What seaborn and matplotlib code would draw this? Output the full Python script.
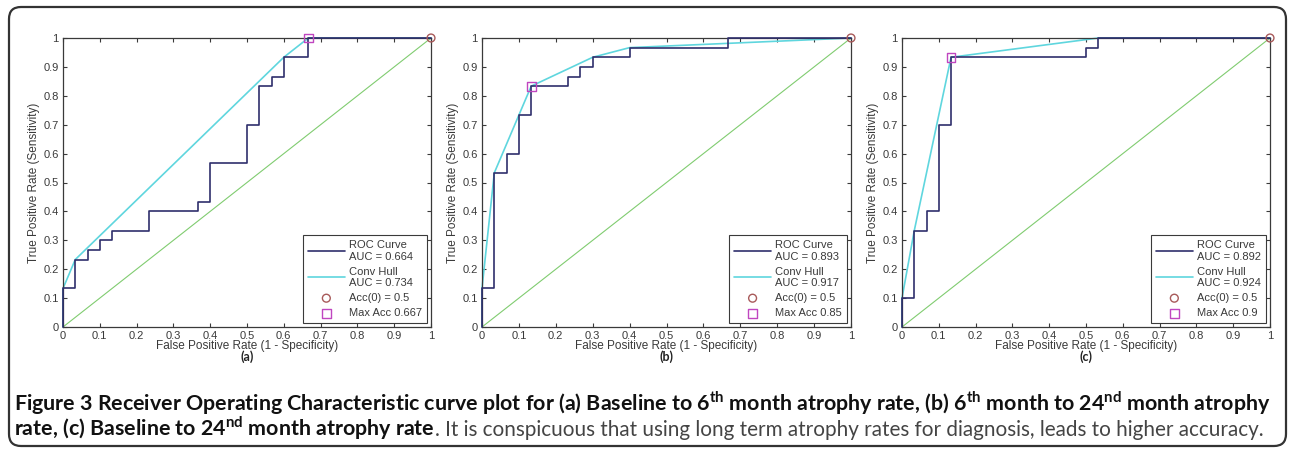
import matplotlib
matplotlib.use('Agg')
import matplotlib.pyplot as plt
from matplotlib.patches import FancyBboxPatch
from matplotlib.transforms import IdentityTransform
import seaborn as sns

# ROC staircase vertices (fpr, tpr)
roc_a_fpr = [0, 0, 0.0333, 0.0333, 0.0667, 0.0667, 0.1, 0.1, 0.1333, 0.1333, 0.2333, 0.2333,
             0.3667, 0.3667, 0.4, 0.4, 0.5, 0.5, 0.5333, 0.5333, 0.5667, 0.5667, 0.6, 0.6,
             0.6667, 0.6667, 1]
roc_a_tpr = [0, 0.1333, 0.1333, 0.2333, 0.2333, 0.2667, 0.2667, 0.3, 0.3, 0.3333, 0.3333, 0.4,
             0.4, 0.4333, 0.4333, 0.5667, 0.5667, 0.7, 0.7, 0.8333, 0.8333, 0.8667, 0.8667, 0.9333,
             0.9333, 1, 1]
hull_a_fpr = [0, 0, 0.0333, 0.6, 0.6667, 1]
hull_a_tpr = [0, 0.1333, 0.2333, 0.9333, 1, 1]

roc_b_fpr = [0, 0, 0.0333, 0.0333, 0.0667, 0.0667, 0.1, 0.1, 0.1333, 0.1333, 0.2333, 0.2333,
             0.2667, 0.2667, 0.3, 0.3, 0.4, 0.4, 0.6667, 0.6667, 1]
roc_b_tpr = [0, 0.1333, 0.1333, 0.5333, 0.5333, 0.6, 0.6, 0.7333, 0.7333, 0.8333, 0.8333, 0.8667,
             0.8667, 0.9, 0.9, 0.9333, 0.9333, 0.9667, 0.9667, 1, 1]
hull_b_fpr = [0, 0, 0.0333, 0.1333, 0.3, 0.4, 1]
hull_b_tpr = [0, 0.1333, 0.5333, 0.8333, 0.9333, 0.9667, 1]

roc_c_fpr = [0, 0, 0.0333, 0.0333, 0.0667, 0.0667, 0.1, 0.1, 0.1333, 0.1333, 0.5, 0.5,
             0.5333, 0.5333, 1]
roc_c_tpr = [0, 0.1, 0.1, 0.3333, 0.3333, 0.4, 0.4, 0.7, 0.7, 0.9333, 0.9333, 0.9667,
             0.9667, 1, 1]
hull_c_fpr = [0, 0, 0.0333, 0.1333, 0.5333, 1]
hull_c_tpr = [0, 0.1, 0.3333, 0.9333, 1, 1]

auc_roc = ['0.664', '0.893', '0.892']
auc_hull = ['0.734', '0.917', '0.924']
acc0 = ['0.5', '0.5', '0.5']
max_acc = ['0.667', '0.85', '0.9']
max_acc_pt = [(0.6667, 1.0), (0.1333, 0.8333), (0.1333, 0.9333)]
panel_tags = ['(a)', '(b)', '(c)']

ticks = [0, 0.1, 0.2, 0.3, 0.4, 0.5, 0.6, 0.7, 0.8, 0.9, 1]
tick_labels = ['0', '0.1', '0.2', '0.3', '0.4', '0.5', '0.6', '0.7', '0.8', '0.9', '1']

W, H = 1290, 450
sns.set_style('ticks')
plt.rcParams['font.family'] = ['Liberation Sans', 'DejaVu Sans']
plt.rcParams['mathtext.fontset'] = 'custom'
plt.rcParams['mathtext.rm'] = 'Lato'
plt.rcParams['mathtext.bf'] = 'Lato:bold'
cap_font = ['Lato', 'DejaVu Sans']

c_roc = '#2f2f6c'
c_hull = '#5fd6de'
c_diag = '#80cc70'
c_circ = '#a85a5a'
c_sq = '#c046c0'
c_ax = '#3a3a3a'

fig = plt.figure(figsize=(W / 100, H / 100), dpi=100)
fig.patch.set_facecolor('white')

lefts = [63, 482, 902]
top, bottom = 38, 327
widths = [368, 369, 368]

panels = [(roc_a_fpr, roc_a_tpr, hull_a_fpr, hull_a_tpr),
          (roc_b_fpr, roc_b_tpr, hull_b_fpr, hull_b_tpr),
          (roc_c_fpr, roc_c_tpr, hull_c_fpr, hull_c_tpr)]

for i, (rf, rt, hf, ht) in enumerate(panels):
    ax = fig.add_axes([lefts[i] / W, (H - bottom) / H, widths[i] / W, (bottom - top) / H])
    sns.lineplot(x=[0, 1], y=[0, 1], color=c_diag, lw=0.8, ax=ax, zorder=1)
    sns.lineplot(x=rf, y=rt, sort=False, estimator=None, color=c_roc, lw=1.2, ax=ax,
                 label='ROC Curve\nAUC = ' + auc_roc[i], zorder=3, clip_on=False)
    sns.lineplot(x=hf, y=ht, sort=False, estimator=None, color=c_hull, lw=1.2, ax=ax,
                 label='Conv Hull\nAUC = ' + auc_hull[i], zorder=2, clip_on=False)
    sns.scatterplot(x=[1], y=[1], marker='o', s=32, facecolor='none', edgecolor=c_circ,
                    color=c_circ, linewidth=1, ax=ax, label='Acc(0) = ' + acc0[i],
                    zorder=5, clip_on=False)
    sns.scatterplot(x=[max_acc_pt[i][0]], y=[max_acc_pt[i][1]], marker='s', s=40,
                    facecolor='none', edgecolor=c_sq, color=c_sq, linewidth=1, ax=ax,
                    label='Max Acc ' + max_acc[i], zorder=5, clip_on=False)

    ax.set_xlim(0, 1)
    ax.set_ylim(0, 1)
    ax.set_xticks(ticks)
    ax.set_xticklabels(tick_labels)
    ax.set_yticks(ticks)
    ax.set_yticklabels(tick_labels)
    ax.tick_params(direction='in', length=3, width=0.8, top=True, right=True,
                   labelsize=8, colors=c_ax, pad=3)
    for sp in ax.spines.values():
        sp.set_visible(True)
        sp.set_color(c_ax)
        sp.set_linewidth(0.9)

    ax.set_xlabel('False Positive Rate (1 - Specificity)', fontsize=8.5, color=c_ax)
    ax.set_ylabel('True Positive Rate (Sensitivity)', fontsize=8.5, color=c_ax)
    ax.xaxis.set_label_coords(0.5, -0.066)
    ax.xaxis.label.set_va('center')
    ax.yaxis.set_label_coords(-0.078, 0.5)
    ax.yaxis.label.set_va('center')

    leg = ax.legend(loc='lower right', fontsize=8, frameon=True, fancybox=False,
                    framealpha=1, edgecolor=c_ax, borderpad=0.45, labelspacing=0.45,
                    handlelength=3.3, handletextpad=0.4, borderaxespad=0.35)
    leg.get_frame().set_linewidth(0.8)
    for t in leg.get_texts():
        t.set_color(c_ax)

    fig.text((lefts[i] + widths[i] / 2) / W, (H - 357) / H, panel_tags[i], family=cap_font,
             fontsize=9, fontweight='bold', color='#222222', ha='center', va='center')

# rounded outer frame
frame = FancyBboxPatch((9, 4), 1277, 439, boxstyle='round,pad=0,rounding_size=12',
                       transform=IdentityTransform(), facecolor='none', edgecolor='#333333',
                       linewidth=1.6)
fig.patches.append(frame)

# caption
line1 = (r'Figure 3 Receiver Operating Characteristic curve plot for (a) Baseline to 6$^{\mathbf{th}}$'
         r' month atrophy rate, (b) 6$^{\mathbf{th}}$ month to 24$^{\mathbf{nd}}$ month atrophy')
line2_bold = r'rate, (c) Baseline to 24$^{\mathbf{nd}}$ month atrophy rate'
line2_norm = '. It is conspicuous that using long term atrophy rates for diagnosis, leads to higher accuracy.'

renderer = fig.canvas.get_renderer()
x0, x1 = 14, 1276
t1 = fig.text(x0 / W, (H - 411) / H, line1, family=cap_font, fontsize=11.5,
              fontweight='bold', color='#111111', va='baseline', ha='left')
w1 = t1.get_window_extent(renderer).width
t1.set_fontsize(11.5 * (x1 - x0) / w1)
fs = t1.get_fontsize()

t2 = fig.text(x0 / W, (H - 436) / H, line2_bold, family=cap_font, fontsize=fs,
              fontweight='bold', color='#111111', va='baseline', ha='left')
w2 = t2.get_window_extent(renderer).width
xn = x0 + w2 + 0.5
t3 = fig.text(xn / W, (H - 436) / H, line2_norm, family=cap_font, fontsize=fs,
              color='#444444', va='baseline', ha='left')
w3 = t3.get_window_extent(renderer).width
if xn + w3 > 1264:
    t3.set_fontsize(fs * (1264 - xn) / w3)

fig.savefig('out.png', dpi=100)
